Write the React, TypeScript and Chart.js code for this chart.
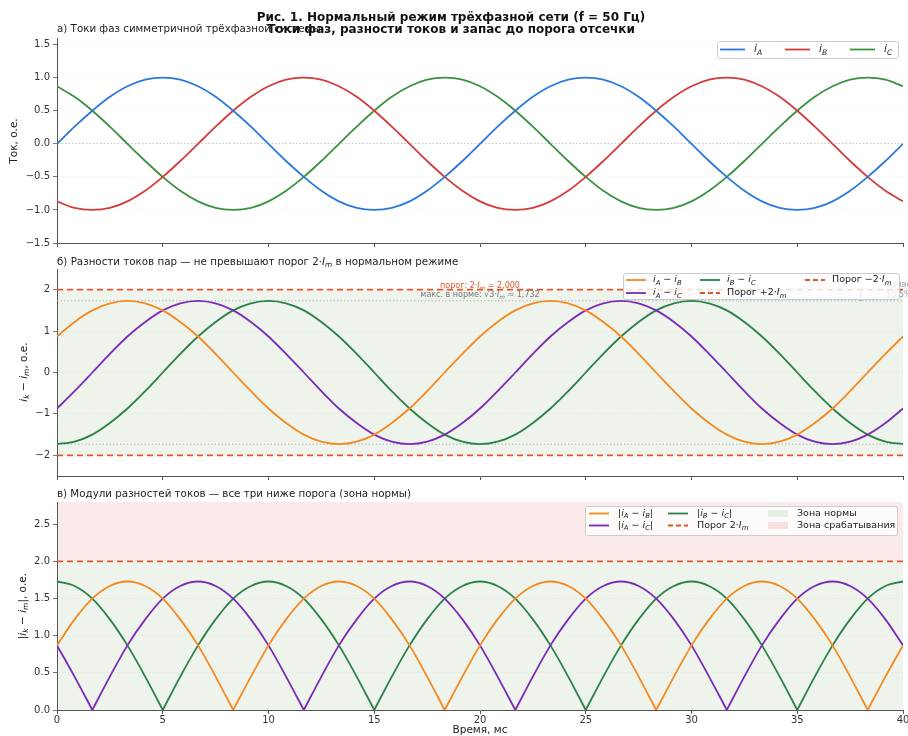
import React, { useEffect, useRef } from 'react';
import { Chart, registerables } from 'chart.js';

Chart.register(...registerables);

// ---------------- data ----------------
const TIME_MS = [
  0, 0.83, 1.67, 2.5, 3.33, 4.17, 5, 5.83, 6.67, 7.5, 8.33, 9.17,
  10, 10.83, 11.67, 12.5, 13.33, 14.17, 15, 15.83, 16.67, 17.5, 18.33, 19.17,
  20, 20.83, 21.67, 22.5, 23.33, 24.17, 25, 25.83, 26.67, 27.5, 28.33, 29.17,
  30, 30.83, 31.67, 32.5, 33.33, 34.17, 35, 35.83, 36.67, 37.5, 38.33, 39.17,
  40,
];

const I_A = [
  0, 0.26, 0.5, 0.71, 0.87, 0.97, 1, 0.97, 0.87, 0.71, 0.5, 0.26,
  0, -0.26, -0.5, -0.71, -0.87, -0.97, -1, -0.97, -0.87, -0.71, -0.5, -0.26,
  0, 0.26, 0.5, 0.71, 0.87, 0.97, 1, 0.97, 0.87, 0.71, 0.5, 0.26,
  0, -0.26, -0.5, -0.71, -0.87, -0.97, -1, -0.97, -0.87, -0.71, -0.5, -0.26,
  0,
];
const I_B = [
  -0.87, -0.97, -1, -0.97, -0.87, -0.71, -0.5, -0.26, 0, 0.26, 0.5, 0.71,
  0.87, 0.97, 1, 0.97, 0.87, 0.71, 0.5, 0.26, 0, -0.26, -0.5, -0.71,
  -0.87, -0.97, -1, -0.97, -0.87, -0.71, -0.5, -0.26, 0, 0.26, 0.5, 0.71,
  0.87, 0.97, 1, 0.97, 0.87, 0.71, 0.5, 0.26, 0, -0.26, -0.5, -0.71,
  -0.87,
];
const I_C = [
  0.87, 0.71, 0.5, 0.26, 0, -0.26, -0.5, -0.71, -0.87, -0.97, -1, -0.97,
  -0.87, -0.71, -0.5, -0.26, 0, 0.26, 0.5, 0.71, 0.87, 0.97, 1, 0.97,
  0.87, 0.71, 0.5, 0.26, 0, -0.26, -0.5, -0.71, -0.87, -0.97, -1, -0.97,
  -0.87, -0.71, -0.5, -0.26, 0, 0.26, 0.5, 0.71, 0.87, 0.97, 1, 0.97,
  0.87,
];

const D_AB = [
  0.87, 1.22, 1.5, 1.67, 1.73, 1.67, 1.5, 1.22, 0.87, 0.45, 0, -0.45,
  -0.87, -1.22, -1.5, -1.67, -1.73, -1.67, -1.5, -1.22, -0.87, -0.45, 0, 0.45,
  0.87, 1.22, 1.5, 1.67, 1.73, 1.67, 1.5, 1.22, 0.87, 0.45, 0, -0.45,
  -0.87, -1.22, -1.5, -1.67, -1.73, -1.67, -1.5, -1.22, -0.87, -0.45, 0, 0.45,
  0.87,
];
const D_AC = [
  -0.87, -0.45, 0, 0.45, 0.87, 1.22, 1.5, 1.67, 1.73, 1.67, 1.5, 1.22,
  0.87, 0.45, 0, -0.45, -0.87, -1.22, -1.5, -1.67, -1.73, -1.67, -1.5, -1.22,
  -0.87, -0.45, 0, 0.45, 0.87, 1.22, 1.5, 1.67, 1.73, 1.67, 1.5, 1.22,
  0.87, 0.45, 0, -0.45, -0.87, -1.22, -1.5, -1.67, -1.73, -1.67, -1.5, -1.22,
  -0.87,
];
const D_BC = [
  -1.73, -1.67, -1.5, -1.22, -0.87, -0.45, 0, 0.45, 0.87, 1.22, 1.5, 1.67,
  1.73, 1.67, 1.5, 1.22, 0.87, 0.45, 0, -0.45, -0.87, -1.22, -1.5, -1.67,
  -1.73, -1.67, -1.5, -1.22, -0.87, -0.45, 0, 0.45, 0.87, 1.22, 1.5, 1.67,
  1.73, 1.67, 1.5, 1.22, 0.87, 0.45, 0, -0.45, -0.87, -1.22, -1.5, -1.67,
  -1.73,
];

const X_TICKS = [0, 5, 10, 15, 20, 25, 30, 35, 40];
const Y_TICKS_A = [-1.5, -1, -0.5, 0, 0.5, 1, 1.5];
const Y_TICKS_B = [-2, -1, 0, 1, 2];
const Y_TICKS_C = [0, 0.5, 1, 1.5, 2, 2.5];
const THRESHOLD = 2;
const NORM_MAX = 1.732;
const ANNOT_T = 20;
const MARGIN_T = 38;
const MARGIN_TEXT = ['запас', '15,5%'];

// ---------------- style ----------------
const FAMILY = '"DejaVu Sans", sans-serif';
const C_A = '#2a78de';
const C_B = '#d43b3b';
const C_C = '#3a913f';
const C_AB = '#f5891f';
const C_AC = '#7b2ab8';
const C_BC = '#2b8048';
const C_THR = '#e5532d';
const NORM_FILL = '#eef4ec';
const TRIP_FILL = '#faeaea';
const TEXT = '#222';

type Seg = { t: string; it?: boolean; sub?: boolean; b?: boolean };
const S = (t: string): Seg => ({ t });
const It = (t: string): Seg => ({ t, it: true });
const Sub = (t: string): Seg => ({ t, it: true, sub: true });
const B = (t: string): Seg => ({ t, b: true });

function segFont(s: Seg, size: number) {
  const sz = s.sub ? size * 0.72 : size;
  return `${s.it ? 'italic ' : ''}${s.b ? 'bold ' : ''}${sz.toFixed(2)}px ${FAMILY}`;
}
function richWidth(ctx: any, segs: Seg[], size: number) {
  let w = 0;
  for (const s of segs) {
    ctx.font = segFont(s, size);
    w += ctx.measureText(s.t).width;
  }
  return w;
}
function drawRich(ctx: any, segs: Seg[], x: number, y: number, size: number, color: string, align = 'left') {
  const w = richWidth(ctx, segs, size);
  let cx = align === 'left' ? x : align === 'center' ? x - w / 2 : x - w;
  ctx.save();
  ctx.fillStyle = color;
  ctx.textBaseline = 'middle';
  ctx.textAlign = 'left';
  for (const s of segs) {
    ctx.font = segFont(s, size);
    ctx.fillText(s.t, cx, y + (s.sub ? size * 0.3 : 0));
    cx += ctx.measureText(s.t).width;
  }
  ctx.restore();
}
function drawVRich(ctx: any, segs: Seg[], x: number, y: number, size: number, color: string) {
  ctx.save();
  ctx.translate(x, y);
  ctx.rotate(-Math.PI / 2);
  drawRich(ctx, segs, 0, 0, size, color, 'center');
  ctx.restore();
}

type LegItem = { segs: Seg[]; kind: 'line' | 'dash' | 'patch'; color: string; x: number; y: number };
function drawLegend(ctx: any, box: number[], items: LegItem[], size: number, handle: number, gap: number) {
  const [bx, by, bw, bh] = box;
  ctx.save();
  ctx.beginPath();
  if (ctx.roundRect) ctx.roundRect(bx + 0.5, by + 0.5, bw, bh, 2);
  else ctx.rect(bx + 0.5, by + 0.5, bw, bh);
  ctx.fillStyle = 'rgba(255,255,255,0.8)';
  ctx.fill();
  ctx.strokeStyle = '#cccccc';
  ctx.lineWidth = 1;
  ctx.stroke();
  for (const it of items) {
    if (it.kind === 'patch') {
      ctx.fillStyle = it.color;
      ctx.fillRect(it.x, it.y - 3.5, handle, 7);
    } else {
      ctx.beginPath();
      ctx.setLineDash(it.kind === 'dash' ? [5, 3] : []);
      ctx.strokeStyle = it.color;
      ctx.lineWidth = 1.8;
      ctx.moveTo(it.x, it.y);
      ctx.lineTo(it.x + handle, it.y);
      ctx.stroke();
      ctx.setLineDash([]);
    }
    drawRich(ctx, it.segs, it.x + handle + gap, it.y, size, TEXT, 'left');
  }
  ctx.restore();
}

// ---------------- helpers ----------------
const pts = (ys: number[]) => ys.map((y, k) => ({ x: TIME_MS[k], y }));
const absPts = (ys: number[]) => {
  const out: any[] = [];
  ys.forEach((y, k) => {
    out.push({ x: TIME_MS[k], y: Math.abs(y) });
    if (y === 0 && k > 0 && k < ys.length - 1) {
      out.push({ x: TIME_MS[k], y: null });
      out.push({ x: TIME_MS[k], y: 0 });
    }
  });
  return out;
};
const hline = (v: number) => [
  { x: X_TICKS[0], y: v },
  { x: X_TICKS[X_TICKS.length - 1], y: v },
];
const curve = (label: string, data: any[], color: string) => ({
  label, data, borderColor: color, backgroundColor: color, borderWidth: 1.8,
  pointRadius: 0, fill: false, cubicInterpolationMode: 'monotone',
});
const refLine = (label: string, v: number, color: string, dash: number[], width: number) => ({
  label, data: hline(v), borderColor: color, backgroundColor: color, borderWidth: width,
  borderDash: dash, pointRadius: 0, fill: false, tension: 0,
});

const fmt = (d: number) => (v: any) => {
  const n = Number(v);
  return (n < 0 ? '\u2212' : '') + Math.abs(n).toFixed(d);
};

function xScale(showLabels: boolean, height: number) {
  return {
    type: 'linear', min: X_TICKS[0], max: X_TICKS[X_TICKS.length - 1],
    afterBuildTicks: (s: any) => { s.ticks = X_TICKS.map((v) => ({ value: v })); },
    ticks: {
      display: showLabels, color: '#333', font: { family: FAMILY, size: 10 }, padding: 0,
      maxRotation: 0, autoSkip: false, callback: (v: any) => String(v),
    },
    grid: { drawOnChartArea: false, tickColor: '#555', tickLength: 4, color: '#555' },
    border: { display: true, color: '#555', width: 1 },
    afterFit: (s: any) => { s.height = height; s.paddingLeft = 0; s.paddingRight = 0; },
  };
}
function yScale(min: number, max: number, ticks: number[], d: number, zeroStrong: boolean) {
  return {
    type: 'linear', min, max,
    afterBuildTicks: (s: any) => { s.ticks = ticks.map((v) => ({ value: v })); },
    ticks: { color: '#333', font: { family: FAMILY, size: 10 }, padding: 3, callback: fmt(d) },
    grid: {
      color: (c: any) => (zeroStrong && c.tick && c.tick.value === 0 ? 'rgba(0,0,0,0.28)' : 'rgba(0,0,0,0.06)'),
      tickColor: '#555', tickLength: 4, lineWidth: 0.8,
    },
    border: { display: true, color: '#555', width: 1, dash: [1.5, 2] },
    afterFit: (s: any) => { s.width = 57; s.paddingTop = 0; s.paddingBottom = 0; },
  };
}

const common = {
  animation: false, responsive: false, devicePixelRatio: 1, events: [],
  plugins: { legend: { display: false }, tooltip: { enabled: false }, title: { display: false } },
  elements: { point: { radius: 0 } },
};

// ---------------- configs ----------------
function cfgA(): any {
  return {
    type: 'line',
    data: { datasets: [curve('iA', pts(I_A), C_A), curve('iB', pts(I_B), C_B), curve('iC', pts(I_C), C_C)] },
    options: {
      ...common,
      layout: { padding: { top: 38, right: 5, left: 0, bottom: 0 } },
      scales: { x: xScale(false, 7), y: yScale(-1.5, 1.6, Y_TICKS_A, 1, true) },
    },
    plugins: [{
      id: 'decoA',
      afterDraw(chart: any) {
        const ctx = chart.ctx;
        drawRich(ctx, [S('а) Токи фаз симметричной трёхфазной системы')], 57, 29, 10.3, TEXT, 'left');
        drawRich(ctx, [B('Рис. 1. Нормальный режим трёхфазной сети (f = 50 Гц)')], 451, 18, 12, '#111', 'center');
        drawRich(ctx, [B('Токи фаз, разности токов и запас до порога отсечки')], 451, 30, 12, '#111', 'center');
        drawVRich(ctx, [S('Ток, о.е.')], 14, 141, 10.5, TEXT);
        drawLegend(ctx, [717, 41, 181, 17], [
          { segs: [It('i'), Sub('A')], kind: 'line', color: C_A, x: 720, y: 49.5 },
          { segs: [It('i'), Sub('B')], kind: 'line', color: C_B, x: 785, y: 49.5 },
          { segs: [It('i'), Sub('C')], kind: 'line', color: C_C, x: 850, y: 49.5 },
        ], 10.5, 25, 9);
      },
    }],
  };
}

function cfgB(): any {
  return {
    type: 'line',
    data: {
      datasets: [
        curve('iA-iB', pts(D_AB), C_AB),
        curve('iA-iC', pts(D_AC), C_AC),
        curve('iB-iC', pts(D_BC), C_BC),
        refLine('+2Im', THRESHOLD, C_THR, [6, 4], 1.8),
        refLine('-2Im', -THRESHOLD, C_THR, [6, 4], 1.8),
        refLine('+max', NORM_MAX, '#b5b5b5', [1.5, 2], 1),
        refLine('-max', -NORM_MAX, '#b5b5b5', [1.5, 2], 1),
      ],
    },
    options: {
      ...common,
      layout: { padding: { top: 19, right: 5, left: 0, bottom: 0 } },
      scales: { x: xScale(false, 7), y: yScale(-2.5, 2.5, Y_TICKS_B, 0, false) },
    },
    plugins: [{
      id: 'decoB',
      beforeDraw(chart: any) {
        const { ctx, chartArea: a, scales } = chart;
        const y1 = scales.y.getPixelForValue(THRESHOLD);
        const y2 = scales.y.getPixelForValue(-THRESHOLD);
        ctx.save();
        ctx.fillStyle = NORM_FILL;
        ctx.fillRect(a.left, y1, a.right - a.left, y2 - y1);
        ctx.restore();
      },
      afterDraw(chart: any) {
        const { ctx, scales } = chart;
        const xs = scales.x, ys = scales.y;
        drawRich(ctx, [S('б) Разности токов пар — не превышают порог 2·'), It('I'), Sub('m'), S(' в нормальном режиме')], 57, 12, 10.3, TEXT, 'left');
        drawVRich(ctx, [It('i'), Sub('k'), S(' − '), It('i'), Sub('m'), S(', о.е.')], 24, 122, 10.5, TEXT);
        const ax = xs.getPixelForValue(ANNOT_T);
        drawRich(ctx, [S('порог: 2·'), It('I'), Sub('m'), S(' = 2,000')], ax, ys.getPixelForValue(THRESHOLD) - 4, 8, C_THR, 'center');
        drawRich(ctx, [S('макс. в норме: √3·'), It('I'), Sub('m'), S(' ≈ 1,732')], ax, ys.getPixelForValue(NORM_MAX) - 6, 8, '#777', 'center');
        // margin marker
        const mx = xs.getPixelForValue(MARGIN_T);
        const my1 = ys.getPixelForValue(THRESHOLD), my2 = ys.getPixelForValue(NORM_MAX);
        ctx.save();
        ctx.strokeStyle = '#999';
        ctx.lineWidth = 1;
        ctx.beginPath();
        ctx.moveTo(mx, my1); ctx.lineTo(mx, my2);
        ctx.moveTo(mx - 2, my2 - 2); ctx.lineTo(mx, my2); ctx.lineTo(mx + 2, my2 - 2);
        ctx.stroke();
        ctx.restore();
        drawRich(ctx, [S(MARGIN_TEXT[0])], 899, my1 - 5, 8, '#999', 'center');
        drawRich(ctx, [S(MARGIN_TEXT[1])], 899, my1 + 5, 8, '#999', 'center');
        drawLegend(ctx, [623, 23, 276, 26], [
          { segs: [It('i'), Sub('A'), S(' − '), It('i'), Sub('B')], kind: 'line', color: C_AB, x: 626, y: 30 },
          { segs: [It('i'), Sub('A'), S(' − '), It('i'), Sub('C')], kind: 'line', color: C_AC, x: 626, y: 43 },
          { segs: [It('i'), Sub('B'), S(' − '), It('i'), Sub('C')], kind: 'line', color: C_BC, x: 700, y: 30 },
          { segs: [S('Порог +2·'), It('I'), Sub('m')], kind: 'dash', color: C_THR, x: 700, y: 43 },
          { segs: [S('Порог −2·'), It('I'), Sub('m')], kind: 'dash', color: C_THR, x: 805, y: 30 },
        ], 9.5, 20, 7);
      },
    }],
  };
}

function cfgC(): any {
  return {
    type: 'line',
    data: {
      datasets: [
        curve('|iA-iB|', absPts(D_AB), C_AB),
        curve('|iA-iC|', absPts(D_AC), C_AC),
        curve('|iB-iC|', absPts(D_BC), C_BC),
        refLine('2Im', THRESHOLD, C_THR, [6, 4], 1.8),
      ],
    },
    options: {
      ...common,
      spanGaps: false,
      layout: { padding: { top: 19, right: 5, left: 0, bottom: 0 } },
      scales: { x: xScale(true, 26), y: yScale(0, 2.8, Y_TICKS_C, 1, false) },
    },
    plugins: [{
      id: 'decoC',
      beforeDraw(chart: any) {
        const { ctx, chartArea: a, scales } = chart;
        const yT = scales.y.getPixelForValue(THRESHOLD);
        const y0 = scales.y.getPixelForValue(0);
        ctx.save();
        ctx.fillStyle = TRIP_FILL;
        ctx.fillRect(a.left, a.top, a.right - a.left, yT - a.top);
        ctx.fillStyle = NORM_FILL;
        ctx.fillRect(a.left, yT, a.right - a.left, y0 - yT);
        ctx.restore();
      },
      afterDraw(chart: any) {
        const { ctx } = chart;
        drawRich(ctx, [S('в) Модули разностей токов — все три ниже порога (зона нормы)')], 57, 11, 10.3, TEXT, 'left');
        drawVRich(ctx, [S('|'), It('i'), Sub('k'), S(' − '), It('i'), Sub('m'), S('|, о.е.')], 23, 123, 10.5, TEXT);
        drawRich(ctx, [S('Время, мс')], 480, 247, 10.5, TEXT, 'center');
        drawLegend(ctx, [585, 23, 312, 29], [
          { segs: [S('|'), It('i'), Sub('A'), S(' − '), It('i'), Sub('B'), S('|')], kind: 'line', color: C_AB, x: 589, y: 30.5 },
          { segs: [S('|'), It('i'), Sub('A'), S(' − '), It('i'), Sub('C'), S('|')], kind: 'line', color: C_AC, x: 589, y: 42.5 },
          { segs: [S('|'), It('i'), Sub('B'), S(' − '), It('i'), Sub('C'), S('|')], kind: 'line', color: C_BC, x: 668, y: 30.5 },
          { segs: [S('Порог 2·'), It('I'), Sub('m')], kind: 'dash', color: C_THR, x: 668, y: 42.5 },
          { segs: [S('Зона нормы')], kind: 'patch', color: '#e6efe3', x: 768, y: 30.5 },
          { segs: [S('Зона срабатывания')], kind: 'patch', color: '#f8e0e0', x: 768, y: 42.5 },
        ], 9.5, 20, 9);
      },
    }],
  };
}

export default function App() {
  const ra = useRef<HTMLCanvasElement>(null);
  const rb = useRef<HTMLCanvasElement>(null);
  const rc = useRef<HTMLCanvasElement>(null);
  useEffect(() => {
    const charts = [
      new Chart(ra.current as HTMLCanvasElement, cfgA()),
      new Chart(rb.current as HTMLCanvasElement, cfgB()),
      new Chart(rc.current as HTMLCanvasElement, cfgC()),
    ];
    return () => charts.forEach((c) => c.destroy());
  }, []);
  const cs = (top: number, h: number): any => ({ position: 'absolute', left: 0, top, width: 908, height: h, display: 'block' });
  return (
    <div style={{ position: 'fixed', left: 0, top: 0, width: 908, height: 736, background: '#fff', overflow: 'hidden' }}>
      <canvas ref={ra} width={908} height={250} style={cs(0, 250)} />
      <canvas ref={rb} width={908} height={233} style={cs(250, 233)} />
      <canvas ref={rc} width={908} height={253} style={cs(483, 253)} />
    </div>
  );
}
